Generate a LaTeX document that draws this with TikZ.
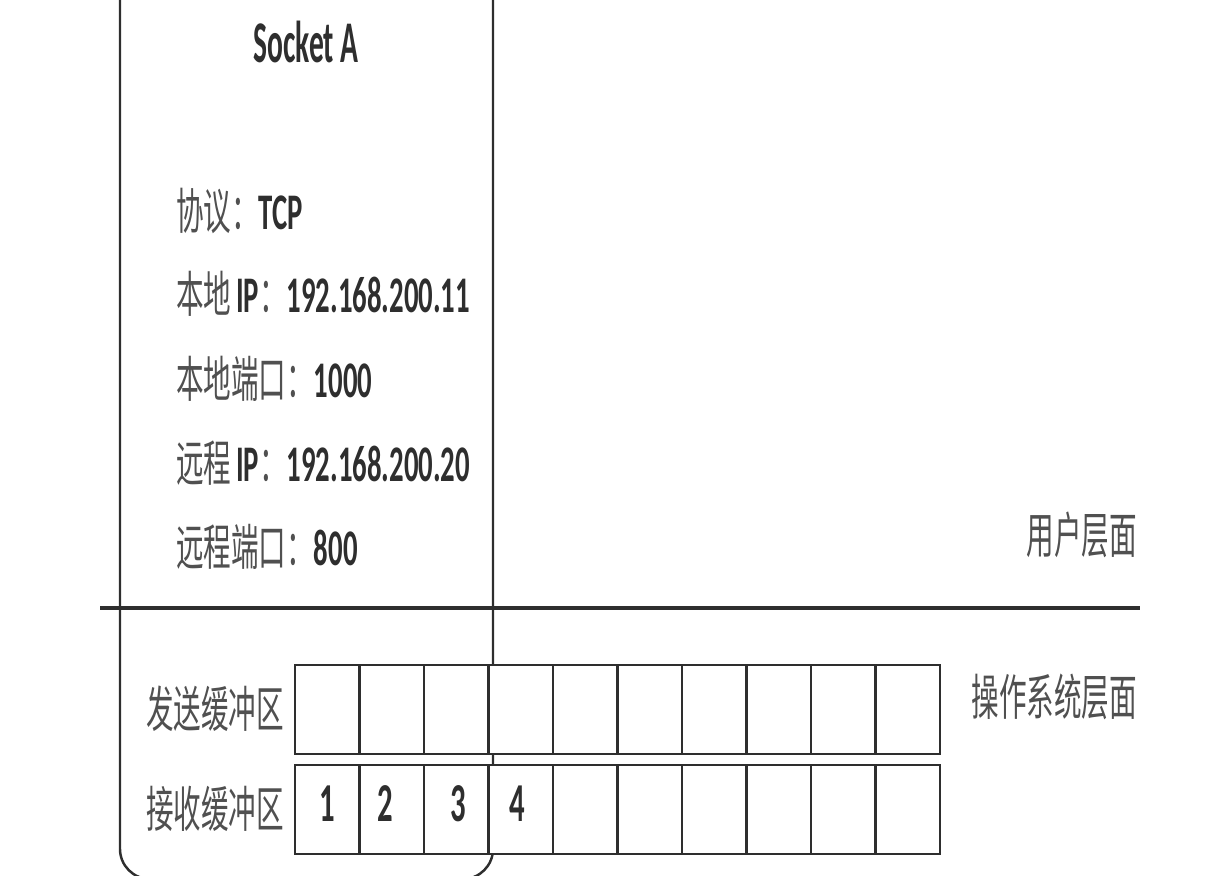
\documentclass[tikz,border=0pt]{standalone}
\usepackage{fontspec}
\newfontfamily\cjkfont[FakeStretch=0.56]{Noto Sans CJK SC}
\newfontfamily\latfont[FakeStretch=0.56]{Carlito}
\newfontfamily\titlefont[FakeStretch=0.5]{Carlito}
\definecolor{ink}{HTML}{2E2E2E}
\definecolor{cjkgray}{HTML}{505050}
\newcommand\zhtxt[1]{{\cjkfont\fontsize{14}{16}\selectfont\color{cjkgray}#1}}
\newcommand\entxt[1]{{\latfont\bfseries\fontsize{14.6}{16}\selectfont\color{ink}#1}}
\begin{document}
\begin{tikzpicture}[x=0.01cm,y=-0.01cm,
  infoline/.style={anchor=base west,inner sep=0pt,outer sep=0pt},
  sidelabel/.style={anchor=base east,inner sep=0pt,outer sep=0pt},
  buflabel/.style={anchor=base west,inner sep=0pt,outer sep=0pt},
  cell/.style={draw=ink,fill=white,line width=0.6pt,minimum width=0.645cm,minimum height=0.89cm,inner sep=0pt,outer sep=0pt},
  digit/.style={anchor=base,inner sep=0pt,outer sep=0pt,font=\latfont\bfseries\fontsize{15.6}{17}\selectfont,text=ink},
  boxline/.style={draw=ink,line width=0.7pt,rounded corners=0.3cm},
  layerline/.style={draw=ink,line width=0.95pt}]
\useasboundingbox (0,0) rectangle (1212,876);
\clip (0,0) rectangle (1212,876);
% socket box
\draw[boxline] (120,-60) rectangle (493,879);
% layer separator
\coordinate (sepL) at (100,608);
\coordinate (sepR) at (1140,608);
\draw[layerline] (sepL) -- (sepR);
% title
\node[anchor=base,inner sep=0pt,font=\titlefont\bfseries\fontsize{16.8}{18}\selectfont,text=ink] (title) at (306,63) {Socket A};
% info lines
\node[infoline] (proto) at (176,229) {\zhtxt{协议：}\entxt{TCP}};
\node[infoline] (lip) at (176,313) {\zhtxt{本地}\hspace{0.05cm}\entxt{IP}\zhtxt{：}\entxt{192.168.200.11}};
\node[infoline] (lport) at (176,397) {\zhtxt{本地端口：}\entxt{1000}};
\node[infoline] (rip) at (176,481) {\zhtxt{远程}\hspace{0.05cm}\entxt{IP}\zhtxt{：}\entxt{192.168.200.20}};
\node[infoline] (rport) at (176,565) {\zhtxt{远程端口：}\entxt{800}};
% layer labels
\node[sidelabel] (user) at (1137,553) {\zhtxt{用户层面}};
\node[sidelabel] (os) at (1137,715) {\zhtxt{操作系统层面}};
% buffer labels
\node[buflabel] (sendlbl) at (146,727) {\zhtxt{发送缓冲区}};
\node[buflabel] (recvlbl) at (146,827) {\zhtxt{接收缓冲区}};
% buffers
\foreach \i in {1,...,10} {
  \node[cell] (s\i) at ({295+64.5*(\i-0.5)},709.5) {};
  \node[cell] (r\i) at ({295+64.5*(\i-0.5)},809.5) {};
}
% received data
\node[digit] (d1) at (327,821) {1};
\node[digit] (d2) at (385,821) {2};
\node[digit] (d3) at (458,821) {3};
\node[digit] (d4) at (517,821) {4};
\end{tikzpicture}
\end{document}
